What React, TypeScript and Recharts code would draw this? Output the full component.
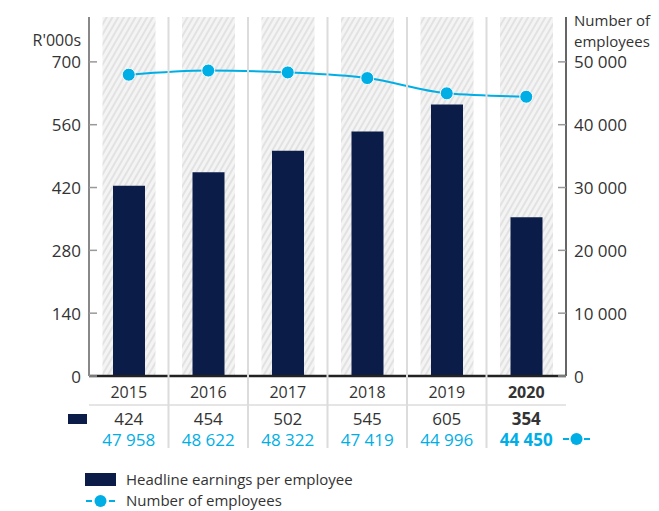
import React from 'react';
import { ComposedChart, Bar, Line, XAxis, YAxis, Legend, Label } from 'recharts';

const years = ['2015', '2016', '2017', '2018', '2019', '2020'];
const earnings = [424, 454, 502, 545, 605, 354];
const employees = [47958, 48622, 48322, 47419, 44996, 44450];
const leftTicks = [0, 140, 280, 420, 560, 700];
const rightTicks = [0, 10000, 20000, 30000, 40000, 50000];

const data = years.map((year, i) => ({
  year,
  earnings: earnings[i],
  employees: employees[i],
}));

const NAVY = '#0b1c48';
const BLUE = '#00aee6';
const TEXT = '#333333';
const GRID = '#dcdcdc';
const FONT = '"Open Sans", sans-serif';

const W = 659;
const H = 511;
const LEFT_W = 89;
const RIGHT_W = 93;
const TOP = 17;
const X_H = 135;
const PLOT_LEFT = LEFT_W;
const PLOT_RIGHT = W - RIGHT_W;
const BAND = (PLOT_RIGHT - PLOT_LEFT) / years.length;

const fmt = (n: number) => n.toLocaleString('en-US').replace(/,/g, ' ');

const HatchBg = (props: any) => {
  const { x, y, width, height } = props;
  const cx = x + width / 2;
  return <rect x={cx - 26.5} y={y} width={53} height={height} fill="url(#hatch)" />;
};

const LeftTick = ({ x, y, payload }: any) => (
  <g>
    <line x1={x + 8} x2={x + 16} y1={y} y2={y} stroke="#999" strokeWidth={1.5} />
    <text x={x} y={y} textAnchor="end" dominantBaseline="central" fontSize={17} fill={TEXT} fontFamily={FONT}>
      {payload.value}
    </text>
  </g>
);

const RightTick = ({ x, y, payload }: any) => (
  <g>
    <line x1={x - 16} x2={x - 8} y1={y} y2={y} stroke="#999" strokeWidth={1.5} />
    <text x={x} y={y} textAnchor="start" dominantBaseline="central" fontSize={17} fill={TEXT} fontFamily={FONT}>
      {fmt(payload.value)}
    </text>
  </g>
);

// year label + two value rows under each column, plus the column separators
const TableTick = ({ x, y, payload, index }: any) => {
  const last = index === years.length - 1;
  const weight = last ? 700 : 400;
  const left = x - BAND / 2;
  return (
    <g fontFamily={FONT}>
      {index > 0 && <line x1={left} x2={left} y1={TOP} y2={y + 72} stroke={GRID} strokeWidth={2} />}
      <line x1={left} x2={left + BAND} y1={y + 29} y2={y + 29} stroke={GRID} strokeWidth={1.5} />
      <text x={x} y={y + 16} textAnchor="middle" dominantBaseline="central" fontSize={16} fontWeight={weight} fill={TEXT}>
        {payload.value}
      </text>
      <text x={x} y={y + 42} textAnchor="middle" dominantBaseline="central" fontSize={17} fontWeight={weight} fill={TEXT}>
        {earnings[index]}
      </text>
      <text x={x} y={y + 63} textAnchor="middle" dominantBaseline="central" fontSize={17} fontWeight={weight} fill={BLUE}>
        {fmt(employees[index])}
      </text>
      {index === 0 && <rect x={PLOT_LEFT - 21} y={y + 38} width={19} height={10} fill={NAVY} />}
      {last && (
        <g>
          <line x1={x + BAND / 2 - 3} x2={x + BAND / 2 + 3} y1={y + 63} y2={y + 63} stroke={BLUE} strokeWidth={2} />
          <circle cx={x + BAND / 2 + 10.5} cy={y + 63} r={6} fill={BLUE} />
          <line x1={x + BAND / 2 + 18} x2={x + BAND / 2 + 24} y1={y + 63} y2={y + 63} stroke={BLUE} strokeWidth={2} />
        </g>
      )}
    </g>
  );
};

const LegendContent = () => (
  <div style={{ fontFamily: FONT, fontSize: 15, color: TEXT, lineHeight: '21px' }}>
    <div style={{ display: 'flex', alignItems: 'center' }}>
      <span style={{ display: 'inline-block', width: 31, height: 13, background: NAVY, marginRight: 10 }} />
      Headline earnings per employee
    </div>
    <div style={{ display: 'flex', alignItems: 'center' }}>
      <svg width={31} height={14} style={{ marginRight: 10 }}>
        <line x1={1} x2={7} y1={7} y2={7} stroke={BLUE} strokeWidth={2} />
        <circle cx={15.5} cy={7} r={6} fill={BLUE} />
        <line x1={24} x2={30} y1={7} y2={7} stroke={BLUE} strokeWidth={2} />
      </svg>
      Number of employees
    </div>
  </div>
);

const App = () => (
  <div style={{ position: 'absolute', left: 0, top: 0, background: '#fff' }}>
    <ComposedChart width={W} height={H} data={data} margin={{ top: TOP, right: 0, bottom: 0, left: 0 }}>
      <defs>
        <pattern id="hatch" width="5" height="5" patternUnits="userSpaceOnUse" patternTransform="rotate(30)">
          <rect width="5" height="5" fill="#f4f4f4" />
          <line x1="1" y1="0" x2="1" y2="5" stroke="#dedede" strokeWidth="1.6" />
        </pattern>
      </defs>
      <XAxis
        dataKey="year"
        height={X_H}
        tickSize={0}
        tickMargin={0}
        interval={0}
        axisLine={{ stroke: '#222', strokeWidth: 2.5 }}
        tick={<TableTick />}
      />
      <YAxis
        yAxisId="left"
        width={LEFT_W}
        domain={[0, 800]}
        ticks={leftTicks}
        tickSize={0}
        tickMargin={8}
        axisLine={{ stroke: '#888', strokeWidth: 2 }}
        tick={<LeftTick />}
      >
        <Label
          content={({ viewBox }: any) => (
            <text x={viewBox.x + viewBox.width - 8} y={viewBox.y + 23} textAnchor="end" dominantBaseline="central" fontSize={16} fill={TEXT} fontFamily={FONT}>
              R'000s
            </text>
          )}
        />
      </YAxis>
      <YAxis
        yAxisId="right"
        orientation="right"
        width={RIGHT_W}
        domain={[0, (800 * 50000) / 700]}
        ticks={rightTicks}
        tickSize={0}
        tickMargin={8}
        axisLine={{ stroke: '#333', strokeWidth: 1.5 }}
        tick={<RightTick />}
      >
        <Label
          content={({ viewBox }: any) => (
            <text x={viewBox.x + 8} y={viewBox.y + 3} textAnchor="start" fontSize={15} fill={TEXT} fontFamily={FONT}>
              <tspan x={viewBox.x + 8} dominantBaseline="central">Number of</tspan>
              <tspan x={viewBox.x + 8} dy={20.5} dominantBaseline="central">employees</tspan>
            </text>
          )}
        />
      </YAxis>
      <Bar
        yAxisId="left"
        dataKey="earnings"
        barSize={32}
        fill={NAVY}
        background={(p: any) => <HatchBg key={p.index} {...p} />}
        isAnimationActive={false}
      />
      <Line
        yAxisId="right"
        dataKey="employees"
        type="monotone"
        stroke={BLUE}
        strokeWidth={2}
        dot={{ r: 6.5, fill: BLUE, stroke: '#fff', strokeWidth: 1 }}
        activeDot={false}
        isAnimationActive={false}
      />
      <Legend
        layout="vertical"
        verticalAlign="middle"
        align="center"
        content={<LegendContent />}
        wrapperStyle={{ position: 'absolute', left: 85, top: 469, width: 320, height: 42 }}
      />
    </ComposedChart>
  </div>
);

export default App;
